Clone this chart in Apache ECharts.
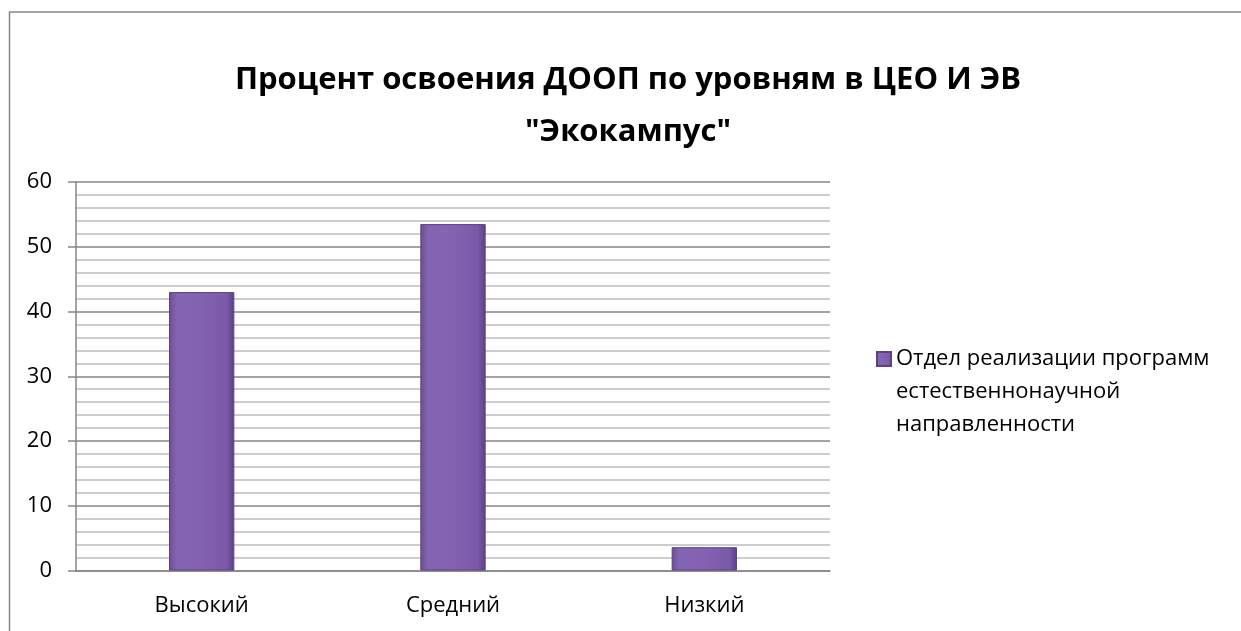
<!DOCTYPE html>
<html>
<head>
<meta charset="utf-8">
<script src="https://cdn.jsdelivr.net/npm/echarts@6/dist/echarts.min.js"></script>
<style>html,body{margin:0;padding:0;background:#fff}#c{width:1241px;height:631px}</style>
</head>
<body>
<div id="c"></div>
<script>
const categories = ['Высокий', 'Средний', 'Низкий'];
const seriesName = 'Отдел реализации программ естественнонаучной направленности';
const values = [43, 53.5, 3.6];
const yTicks = [0, 10, 20, 30, 40, 50, 60];

const chart = echarts.init(document.getElementById('c'));
const FONT = '"Open Sans", "Noto Sans", sans-serif';
chart.setOption({
  animation: false,
  backgroundColor: '#fff',
  graphic: [{
    type: 'rect', left: 7, top: 9.5, silent: true,
    shape: { width: 1300, height: 700 },
    style: { fill: 'none', stroke: '#878787', lineWidth: 1.5 }
  }],
  title: {
    text: 'Процент освоения ДООП по уровням в ЦЕО И ЭВ\n"Экокампус"',
    left: 628, top: 54, textAlign: 'center', padding: 0,
    textStyle: { fontFamily: FONT, fontWeight: 'bold', fontSize: 31, lineHeight: 52, color: '#000' }
  },
  grid: { left: 76, right: 411, top: 182, bottom: 60.5 },
  legend: {
    left: 876, top: 341.5, orient: 'vertical', padding: 0,
    itemWidth: 14, itemHeight: 99, itemGap: 7,
    icon: 'path://M0,9.5L14,9.5L14,23.5L0,23.5Z M0,0 M0,99',
    data: [seriesName],
    formatter: () => 'Отдел реализации программ\nестественнонаучной\nнаправленности',
    textStyle: { fontFamily: FONT, fontSize: 22, color: '#000', lineHeight: 33 }
  },
  xAxis: {
    type: 'category', data: categories,
    axisLine: { show: true, lineStyle: { color: '#868686', width: 1.5 } },
    axisTick: { show: false },
    axisLabel: { color: '#000', fontFamily: FONT, fontSize: 22, margin: 24 }
  },
  yAxis: {
    type: 'value', min: 0, max: 60, interval: 10,
    axisLine: { show: true, lineStyle: { color: '#868686', width: 1.5 } },
    axisTick: { show: true, length: 8, lineStyle: { color: '#868686', width: 1.5 } },
    axisLabel: { color: '#000', fontFamily: FONT, fontSize: 22, margin: 24,
      formatter: v => yTicks.includes(v) ? String(v) : '' },
    splitLine: { show: true, lineStyle: { color: '#868686', width: 1.5 } },
    minorTick: { show: false, splitNumber: 5 },
    minorSplitLine: { show: true, lineStyle: { color: '#bdbdbd', width: 1.5 } }
  },
  series: [{
    name: seriesName, type: 'bar', data: values, barWidth: '26%',
    itemStyle: {
      color: new echarts.graphic.LinearGradient(0, 0, 1, 0, [
        { offset: 0, color: '#6b4d96' },
        { offset: 0.12, color: '#8465b3' },
        { offset: 0.5, color: '#8362b2' },
        { offset: 0.88, color: '#7a5aa8' },
        { offset: 1, color: '#5a3f85' }
      ]),
      borderColor: '#5b4383', borderWidth: 1
    }
  }]
});
</script>
</body>
</html>
